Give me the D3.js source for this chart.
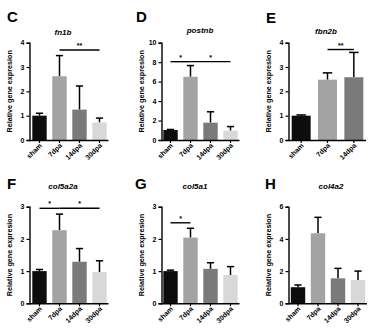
<!DOCTYPE html>
<html>
<head>
<meta charset="utf-8">
<script src="https://cdn.jsdelivr.net/npm/d3@7"></script>
<style>
  html, body { margin: 0; padding: 0; background: #fff; }
  svg { display: block; }
  text { font-family: "Liberation Sans", Arial, sans-serif; font-weight: bold; fill: #000; }
</style>
</head>
<body>
<svg id="fig" width="370" height="331"></svg>
<script>
// Relative gene expression (mean + SD) after injury, one panel per gene
const panelLetters = ["C", "D", "E", "F", "G", "H"];
const genes = ["fn1b", "postnb", "fbn2b", "col5a2a", "col5a1", "col4a2"];
const groups4 = ["sham", "7dpa", "14dpa", "30dpa"];
const groups3 = ["sham", "7dpa", "14dpa"];

const meanFn1b = [1.0, 2.62, 1.25, 0.72];
const sdFn1b = [0.1, 0.85, 0.97, 0.18];
const meanPostnb = [1.03, 6.5, 1.78, 0.96];
const sdPostnb = [0.05, 1.15, 1.12, 0.42];
const meanFbn2b = [1.0, 2.48, 2.58];
const sdFbn2b = [0.03, 0.28, 1.02];
const meanCol5a2a = [1.0, 2.27, 1.29, 0.97];
const sdCol5a2a = [0.05, 0.5, 0.41, 0.35];
const meanCol5a1 = [1.0, 2.04, 1.07, 0.88];
const sdCol5a1 = [0.03, 0.29, 0.19, 0.26];
const meanCol4a2 = [1.0, 4.35, 1.55, 1.45];
const sdCol4a2 = [0.14, 0.99, 0.62, 0.55];

const yMax = [4, 10, 4, 3, 3, 6];
const yTicks = [
  [0, 1, 2, 3, 4],
  [0, 2, 4, 6, 8, 10],
  [0, 1, 2, 3, 4],
  [0, 1, 2, 3],
  [0, 1, 2, 3],
  [0, 2, 4, 6]
];

// significance brackets: [from group, to group, height, label]
const sigFn1b = [["7dpa", "30dpa", 3.7, "**"]];
const sigPostnb = [["sham", "7dpa", 8.05, "*"], ["7dpa", "30dpa", 8.05, "*"]];
const sigFbn2b = [["7dpa", "14dpa", 3.72, "**"]];
const sigCol5a2a = [["sham", "7dpa", 2.95, "*"], ["7dpa", "30dpa", 2.95, "*"]];
const sigCol5a1 = [["sham", "7dpa", 2.5, "*"]];
const sigCol4a2 = [];

const yLabel = "Relative gene expresion";

const groupColor = { "sham": "#0d0d0d", "7dpa": "#a3a3a3", "14dpa": "#7a7a7a", "30dpa": "#d8d8d8" };

const panels = [
  { groups: groups4, mean: meanFn1b, sd: sdFn1b, sig: sigFn1b },
  { groups: groups4, mean: meanPostnb, sd: sdPostnb, sig: sigPostnb },
  { groups: groups3, mean: meanFbn2b, sd: sdFbn2b, sig: sigFbn2b },
  { groups: groups4, mean: meanCol5a2a, sd: sdCol5a2a, sig: sigCol5a2a },
  { groups: groups4, mean: meanCol5a1, sd: sdCol5a1, sig: sigCol5a1 },
  { groups: groups4, mean: meanCol4a2, sd: sdCol4a2, sig: sigCol4a2 }
];

// page layout of each panel
const frames = [
  { axisX: 29.5, bandX: 29.5, bandEnd: 109.5, top: 42.7, bottom: 140, titleX: 63, letterX: 7, letterY: 22, titleY: 35 },
  { axisX: 161.5, bandX: 160.5, bandEnd: 240.5, top: 42.7, bottom: 140, titleX: 200, letterX: 136, letterY: 22, titleY: 33 },
  { axisX: 288.5, bandX: 288, bandEnd: 367, top: 42.7, bottom: 140, titleX: 326, letterX: 266, letterY: 23, titleY: 34 },
  { axisX: 29.5, bandX: 29.5, bandEnd: 109.5, top: 206.7, bottom: 303.3, titleX: 63, letterX: 7, letterY: 189, titleY: 189 },
  { axisX: 161.5, bandX: 160.5, bandEnd: 240.5, top: 206.7, bottom: 303.3, titleX: 195, letterX: 135, letterY: 189, titleY: 189 },
  { axisX: 288.5, bandX: 288, bandEnd: 368, top: 206.7, bottom: 303.3, titleX: 331, letterX: 265, letterY: 189, titleY: 189 }
];

const svg = d3.select("#fig");

panels.forEach((p, i) => {
  const f = frames[i];
  const g = svg.append("g");

  const x = d3.scaleBand().domain(p.groups).range([f.bandX, f.bandEnd])
    .paddingInner(0.28).paddingOuter(0.14);
  const y = d3.scaleLinear().domain([0, yMax[i]]).range([f.bottom, f.top]);

  // panel letter and gene title
  g.append("text").attr("x", f.letterX).attr("y", f.letterY)
    .attr("font-size", 15).text(panelLetters[i]);
  g.append("text").attr("x", f.titleX).attr("y", f.titleY)
    .attr("text-anchor", "middle").attr("font-size", 8).attr("font-style", "italic")
    .text(genes[i]);

  const rows = p.groups.map((k, j) => ({ k, m: p.mean[j], s: p.sd[j] }));

  // error bars (upper whisker only)
  const capW = x.bandwidth() * 0.5;
  rows.forEach(r => {
    const cx = x(r.k) + x.bandwidth() / 2;
    g.append("line").attr("x1", cx).attr("x2", cx)
      .attr("y1", y(r.m)).attr("y2", y(r.m + r.s))
      .attr("stroke", "#000").attr("stroke-width", 1.5);
    g.append("line").attr("x1", cx - capW / 2).attr("x2", cx + capW / 2)
      .attr("y1", y(r.m + r.s)).attr("y2", y(r.m + r.s))
      .attr("stroke", "#000").attr("stroke-width", 1.5);
  });

  // bars
  g.selectAll("rect.bar").data(rows).join("rect")
    .attr("class", "bar")
    .attr("x", d => x(d.k)).attr("width", x.bandwidth())
    .attr("y", d => y(d.m)).attr("height", d => y(0) - y(d.m))
    .attr("fill", d => groupColor[d.k]);

  // y axis
  const yAxis = g.append("g").attr("transform", `translate(${f.axisX},0)`)
    .call(d3.axisLeft(y).tickValues(yTicks[i]).tickSize(3).tickPadding(2).tickFormat(d3.format("d")));
  yAxis.select(".domain").attr("stroke-width", 1.4);
  yAxis.selectAll(".tick line").attr("stroke-width", 1.2);
  yAxis.selectAll(".tick text").attr("font-size", 7).style("font-family", "Liberation Sans, Arial, sans-serif").style("font-weight", "bold");

  // x axis
  const xAxis = g.append("g").attr("transform", `translate(0,${f.bottom})`)
    .call(d3.axisBottom(x).tickSize(3).tickSizeOuter(0));
  xAxis.select(".domain").attr("d", `M${f.axisX},0.5H${f.bandEnd - 1}`).attr("stroke-width", 1.4);
  xAxis.selectAll(".tick line").attr("stroke-width", 1.2);
  xAxis.selectAll(".tick text")
    .attr("font-size", 7).style("font-family", "Liberation Sans, Arial, sans-serif").style("font-weight", "bold")
    .attr("text-anchor", "end")
    .attr("dy", 0).attr("y", 0)
    .attr("transform", "translate(3,6) rotate(-45)");

  // y axis title
  g.append("text")
    .attr("transform", `translate(${f.axisX - 18},${(f.top + f.bottom) / 2}) rotate(-90)`)
    .attr("text-anchor", "middle").attr("font-size", 7.2)
    .text(yLabel);

  // significance brackets
  p.sig.forEach(([a, b, h, lab]) => {
    const x1 = x(a) + x.bandwidth() / 2, x2 = x(b) + x.bandwidth() / 2;
    g.append("line").attr("x1", x1).attr("x2", x2)
      .attr("y1", y(h)).attr("y2", y(h))
      .attr("stroke", "#000").attr("stroke-width", 1.4);
    g.append("text").attr("x", (x1 + x2) / 2).attr("y", y(h) - 2)
      .attr("text-anchor", "middle").attr("font-size", 7).text(lab);
  });
});
</script>
</body>
</html>
